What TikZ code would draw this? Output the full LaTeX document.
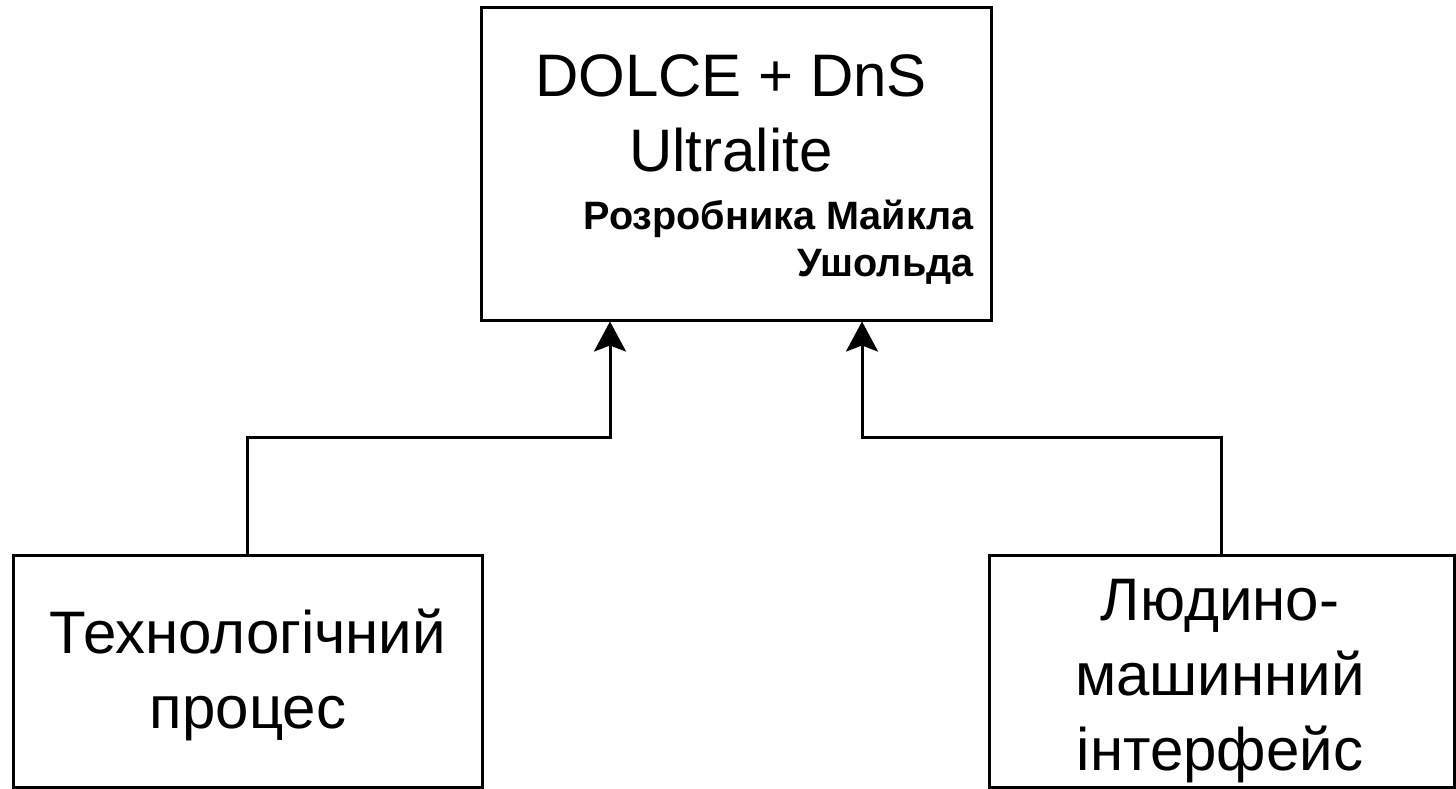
\documentclass[tikz,border=0pt]{standalone}
\usepackage{fontspec}
\setmainfont{Liberation Sans}
\usetikzlibrary{arrows.meta}
\begin{document}
\begin{tikzpicture}[x=0.5pt,y=-0.5pt,
  box/.style={draw=black,line width=1.5pt,fill=white,inner sep=0pt,rectangle},
  big/.style={font=\fontsize{30}{37.5}\selectfont,align=center,inner sep=0pt},
  small/.style={font=\fontsize{19.8}{23.5}\selectfont\bfseries,align=right,inner sep=0pt},
  link/.style={line width=1.5pt,-{Stealth[length=15pt,width=16pt,inset=3pt]}}]
\useasboundingbox (0,0) rectangle (1456,788);
% boxes
\node[box,minimum width=255pt,minimum height=156.5pt] (onto) at (736,163.5) {};
\node[box,minimum width=234.5pt,minimum height=116pt] (tech) at (247.5,671) {};
\node[box,minimum width=232.5pt,minimum height=116pt] (hmi) at (1221.5,671) {};
% texts
\node[big] (ontotxt) at (731,113) {DOLCE + DnS\\Ultralite};
\node[small,anchor=east] (author) at (974,242) {Розробника Майкла\\Ушольда};
\node[big] (techtxt) at (248,675) {Технологічний\\процес};
\node[big] (hmitxt) at (1220,681) {Людино-\\машинний\\інтерфейс};
% connectors
\coordinate (ja) at (610,437);
\coordinate (jb) at (862,437);
\draw[link] (tech.north) |- (ja) -- (ja |- onto.south);
\draw[link] (hmi.north) |- (jb) -- (jb |- onto.south);
\end{tikzpicture}
\end{document}
